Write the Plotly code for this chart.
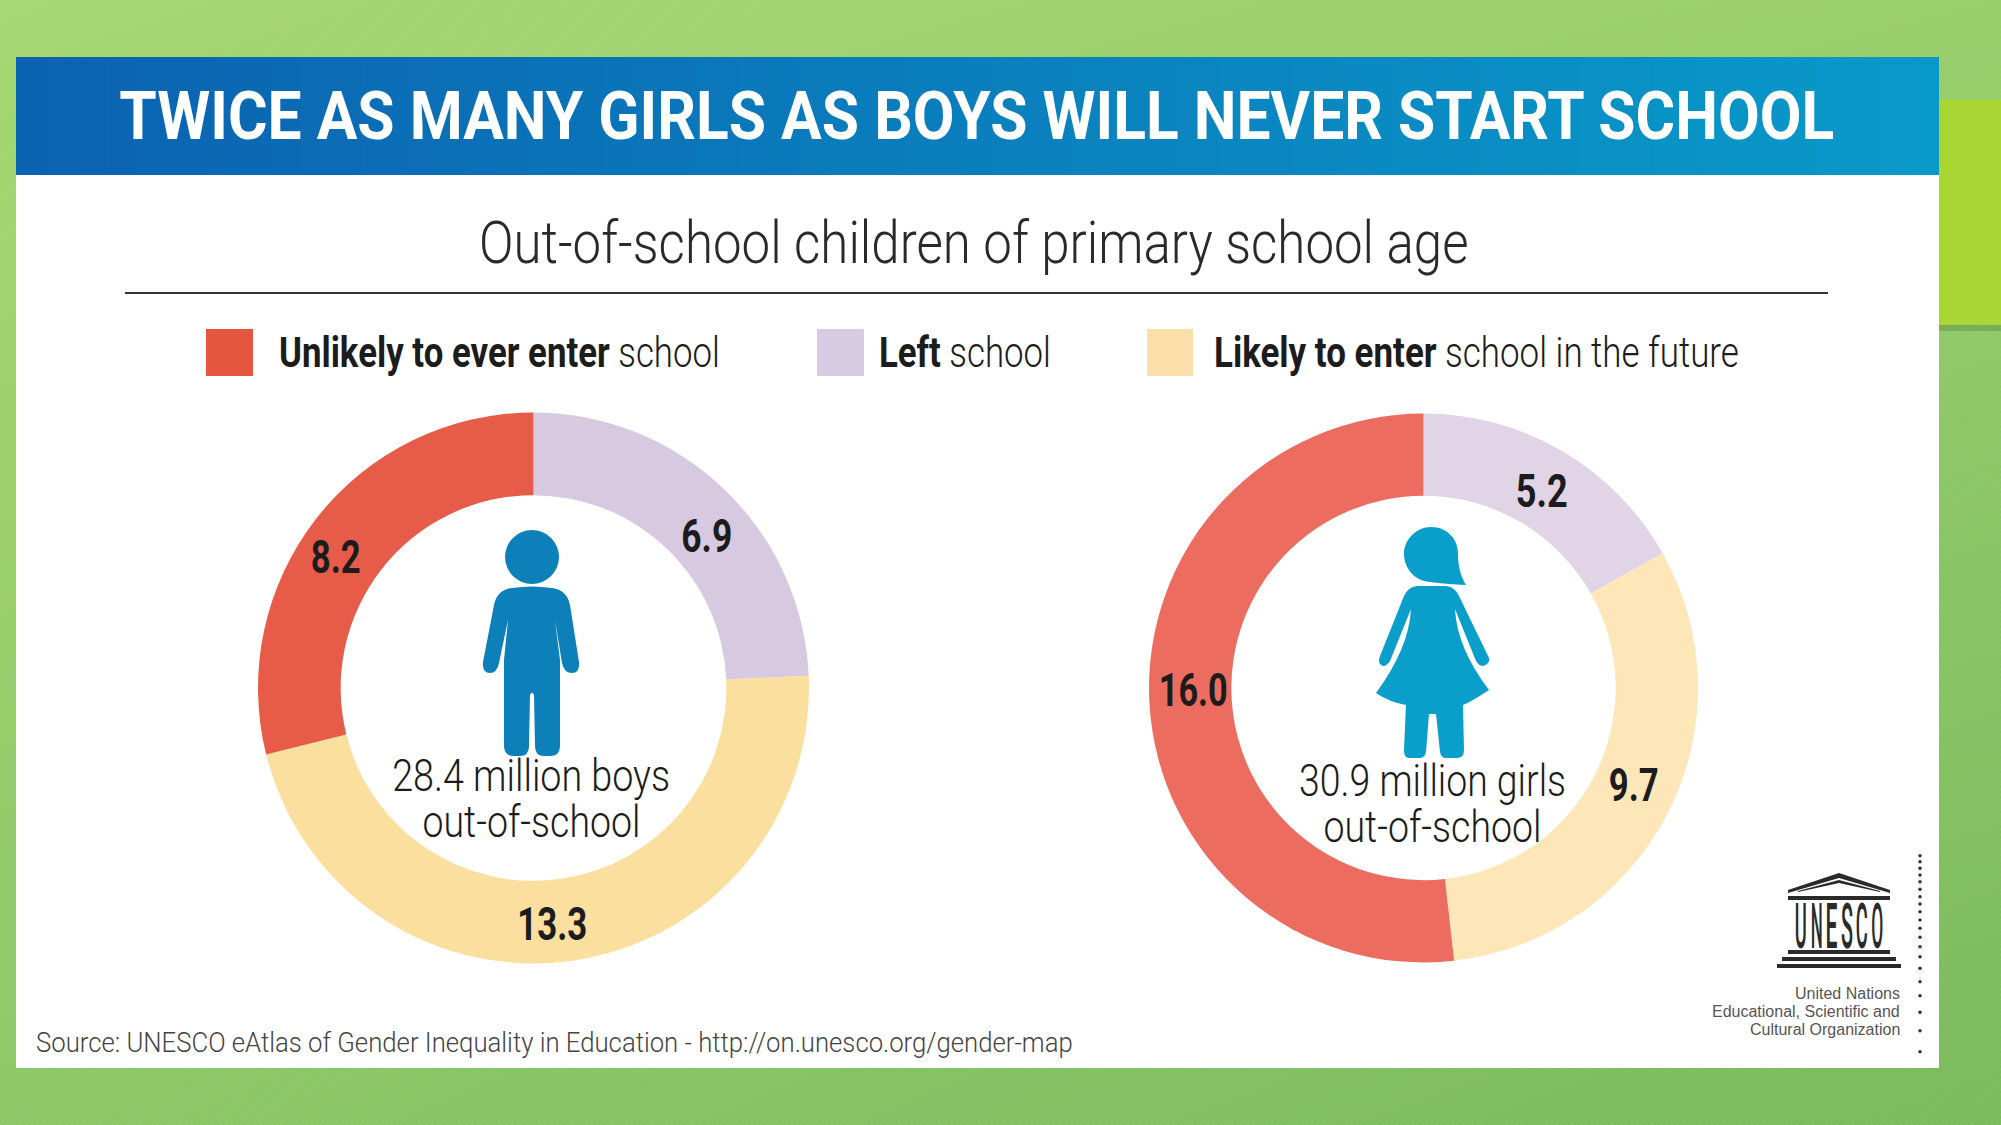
import json
import numpy as np
import plotly.graph_objects as go

W, H = 2001, 1125

# ---- data ----
categories = ["Left school", "Likely to enter school in the future", "Unlikely to ever enter school"]
boys_values = [6.9, 13.3, 8.2]
girls_values = [5.2, 9.7, 16.0]
boys_colors = ["#d6c9e0", "#fbdf9f", "#e65c48"]
girls_colors = ["#e0d4e6", "#fde7b9", "#ec6c5f"]
title_text = "TWICE AS MANY GIRLS AS BOYS WILL NEVER START SCHOOL"
subtitle_text = "Out-of-school children of primary school age"
source_text = "Source: UNESCO eAtlas of Gender Inequality in Education - http://on.unesco.org/gender-map"
org_lines = ["United Nations", "Educational, Scientific and", "Cultural Organization"]

ROBOTO = "Roboto, sans-serif"
ARIAL = "Liberation Sans, Arial, sans-serif"
DARK = "#1c1c1c"

fig = go.Figure()

# background gradient + hatch
fig.add_trace(go.Heatmap(x=[0, W], y=[0, H], z=[[0.0, 0.3], [0.55, 1.0]], zsmooth="best",
                         colorscale=[[0, "#a6d770"], [1, "#79ba5d"]], showscale=False,
                         hoverinfo="skip", zmin=0, zmax=1))
hx, hy = [], []
for c in np.arange(0, W + H, 5):
    hx += [c, c - H, None]
    hy += [0, H, None]
fig.add_trace(go.Scatter(x=hx, y=hy, mode="lines", line=dict(color="rgba(255,255,255,0.07)", width=1),
                         hoverinfo="skip", showlegend=False))
# green accent + shadow
fig.add_trace(go.Scatter(x=[1939, W, W, 1939, 1939], y=[325, 325, 331, 331, 325], mode="lines", fill="toself",
                         fillcolor="rgba(70,110,50,0.30)", line=dict(width=0), hoverinfo="skip", showlegend=False))
fig.add_trace(go.Scatter(x=[1939, W, W, 1939, 1939], y=[100, 100, 325, 325, 100], mode="lines", fill="toself",
                         fillcolor="#a9d632", line=dict(width=0), hoverinfo="skip", showlegend=False))

# card (overlay subplot so it sits above the hatch)
fig.add_trace(go.Scatter(x=[16, 1939, 1939, 16, 16], y=[175, 175, 1068, 1068, 175], mode="lines", fill="toself",
                         fillcolor="white", line=dict(width=0), hoverinfo="skip", showlegend=False,
                         xaxis="x2", yaxis="y2"))
# header band
edges = np.linspace(16, 1939, 129)
fig.add_trace(go.Heatmap(x=edges, y=[57, 175], z=[np.linspace(0, 1, 128)], showscale=False, hoverinfo="skip",
                         colorscale=[[0, "#0b62b1"], [0.5, "#0a7fbd"], [1, "#0999c9"]],
                         xaxis="x2", yaxis="y2"))
# logo dotted rule
dot_y = [47, 65, 85, 105, 125, 148, 170, 192, 215, 240, 265, 292, 320, 350, 385, 425, 467, 517, 572, 635]
fig.add_trace(go.Scatter(x=[1920] * len(dot_y), y=[840 + d / 3 for d in dot_y], mode="markers",
                         marker=dict(size=3.5, color="#333333"), hoverinfo="skip", showlegend=False,
                         xaxis="x2", yaxis="y2"))


def add_donut(values, colors, cx, cy, r, hole):
    fig.add_trace(go.Pie(values=values, labels=categories, sort=False, direction="clockwise", rotation=0,
                         hole=hole, textinfo="none", hoverinfo="label+value", showlegend=False,
                         marker=dict(colors=colors, line=dict(width=0)),
                         domain=dict(x=[(cx - r) / W, (cx + r) / W], y=[1 - (cy + r) / H, 1 - (cy - r) / H])))


add_donut(boys_values, boys_colors, 533.5, 688, 275.5, 0.70)
add_donut(girls_values, girls_colors, 1423.5, 688, 274.5, 0.70)

shapes = []


def rect(x0, y0, x1, y1, color):
    shapes.append(dict(type="rect", xref="x2", yref="y2", x0=x0, y0=y0, x1=x1, y1=y1,
                       fillcolor=color, line=dict(width=0), layer="above"))


def path(d, color, line_w=0):
    shapes.append(dict(type="path", xref="x2", yref="y2", path=d, fillcolor=color,
                       line=dict(width=line_w, color=color), layer="above"))


# divider + legend swatches
shapes.append(dict(type="line", xref="x2", yref="y2", x0=125, x1=1828, y0=293, y1=293, line=dict(color="#333333", width=2)))
rect(206, 329, 253, 376, "#e5553f")
rect(817, 329, 864, 376, "#d6cbe2")
rect(1147, 329, 1193, 376, "#fadfa8")

# boy icon
BOY = "#0e80b9"
shapes.append(dict(type="circle", xref="x2", yref="y2", x0=505, y0=530, x1=559, y1=584,
                   fillcolor=BOY, line=dict(width=0), layer="above"))
path("M 512 588 Q 532 585 552 588 Q 567 590 570 605 L 579 662 Q 580 673 572 673 Q 564 673 562 663 "
     "L 555 620 L 560 660 L 560 746 Q 560 756 550 756 L 544 756 Q 535 756 535 746 L 534 695 Q 532 690 530 695 "
     "L 529 746 Q 529 756 520 756 L 514 756 Q 504 756 504 746 L 504 660 L 508 620 L 499 663 Q 497 673 490 673 "
     "Q 482 673 483 662 L 494 605 Q 497 590 512 588 Z", BOY)

# girl icon
GIRL = "#0a9ecb"
path("M 1431 527 C 1448 527 1458 540 1458 553 C 1458 565 1460 575 1466 585 C 1448 584 1438 583 1431 582 "
     "C 1415 582 1404 568 1404 554 C 1404 540 1416 527 1431 527 Z", GIRL)
path("M 1417 586 L 1446 586 Q 1455 587 1459 596 L 1489 658 Q 1490 664 1483 666 Q 1479 666 1476 661 L 1455 609 "
     "Q 1457 648 1489 690 Q 1469 703 1463 705 L 1464 750 Q 1464 758 1457 758 L 1446 758 Q 1441 758 1440 752 L 1436 714 "
     "L 1429 714 L 1426 752 Q 1425 758 1419 758 L 1409 758 Q 1404 758 1404 750 L 1406 705 Q 1389 702 1376 693 "
     "Q 1409 648 1411 609 L 1390 661 Q 1387 666 1383 666 Q 1377 664 1380 656 L 1404 596 Q 1408 587 1417 586 Z", GIRL)

# UNESCO temple
LOGO = "#2a2a2a"
path("M 1788 890 L 1839 873 L 1890 890 L 1890 893 L 1839 878 L 1788 893 Z", LOGO)
path("M 1798 891 L 1839 880 L 1880 891 L 1880 892 L 1839 883 L 1798 892 Z", LOGO)
rect(1788, 896, 1890, 900, LOGO)
rect(1788, 950, 1890, 954, LOGO)
rect(1782, 957, 1896, 961, LOGO)
rect(1777, 964, 1901, 968, LOGO)

ann = []
fit = {}  # annotation index -> [target width px, vertical stretch, anchor]


def text(x, y, s, size, font=ROBOTO, color=DARK, anchor="center", weight=None, width=None, vstretch=1):
    f = dict(family=font, size=size, color=color)
    if weight:
        f["weight"] = weight
    if width:
        fit[str(len(ann))] = [width, vstretch, anchor]
    ann.append(dict(x=x, y=y, xref="x2", yref="y2", text=s, showarrow=False, xanchor=anchor, yanchor="middle",
                    font=f, align=anchor))


text(977, 116, f"<b>{title_text}</b>", 66, color="white", width=1715)
text(974, 242, subtitle_text, 60, color="#2a2a2a", weight=300, width=990)
text(277, 352, "<b>Unlikely to ever enter</b> school", 42, anchor="left", weight=300, width=441)
text(877, 352, "<b>Left</b> school", 42, anchor="left", weight=300, width=172)
text(1212, 352, "<b>Likely to enter</b> school in the future", 42, anchor="left", weight=300, width=525)

text(531, 776, "28.4 million boys", 38, weight=300, width=278, vstretch=1.18)
text(531, 822, "out-of-school", 38, weight=300, width=218, vstretch=1.18)
text(1432, 781, "30.9 million girls", 38, weight=300, width=267, vstretch=1.18)
text(1432, 827, "out-of-school", 38, weight=300, width=218, vstretch=1.18)

for (x, y, w), v in zip([(707, 535, 51), (552, 923, 70), (336, 556, 50)], boys_values):
    text(x, y, f"<b>{v:.1f}</b>", 47, width=w)
for (x, y, w), v in zip([(1542, 490, 52), (1634, 784, 50), (1193, 689, 69)], girls_values):
    text(x, y, f"<b>{v:.1f}</b>", 47, width=w)

text(34, 1042, source_text, 28, color="#444444", anchor="left", weight=300, width=1037)
for y, s in zip([993, 1011, 1029], org_lines):
    text(1902, y, s, 16, font=ARIAL, color="#555555", anchor="right")
for i, ch in enumerate("UNESCO"):
    text(1801 + i * 15.2, 925, ch, 30, color=LOGO, weight=500, width=12, vstretch=2.1)

axis = dict(visible=False, fixedrange=True, showgrid=False, zeroline=False)
fig.update_layout(
    width=W, height=H, margin=dict(l=0, r=0, t=0, b=0), autosize=False,
    paper_bgcolor="white", plot_bgcolor="rgba(0,0,0,0)", showlegend=False,
    xaxis=dict(range=[0, W], domain=[0, 1], **axis),
    yaxis=dict(range=[H, 0], domain=[0, 1], **axis),
    xaxis2=dict(range=[0, W], overlaying="x", **axis),
    yaxis2=dict(range=[H, 0], overlaying="y", **axis),
    shapes=shapes, annotations=ann,
)

# remove the page margin; condense each text to the reference's narrow letterforms (no condensed font is installed)
post = """
document.body.style.margin='0';
document.documentElement.style.overflow='hidden';
var FIT=%s;
document.querySelectorAll('.annotation').forEach(function(g){
  var f=FIT[g.getAttribute('data-index')]; if(!f) return;
  var t=g.querySelector('text'); var b=t.getBBox();
  var ax=f[2]=='left'?b.x:(f[2]=='right'?b.x+b.width:b.x+b.width/2);
  var ay=b.y+b.height/2;
  t.setAttribute('transform','translate('+ax+' '+ay+') scale('+(f[0]/b.width)+' '+f[1]+') translate('+(-ax)+' '+(-ay)+')');
});
""" % json.dumps(fit)
fig.write_html("out.html", config=dict(displayModeBar=False), post_script=post)
